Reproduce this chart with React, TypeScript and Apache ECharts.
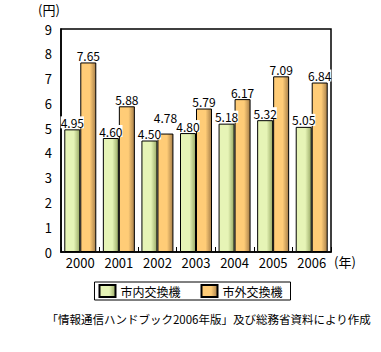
import React, { useEffect, useRef } from "react";
import * as echarts from "echarts";

const categories = ["2000", "2001", "2002", "2003", "2004", "2005", "2006"];
const localValues = [4.95, 4.6, 4.5, 4.8, 5.18, 5.32, 5.05];
const longValues = [7.65, 5.88, 4.78, 5.79, 6.17, 7.09, 6.84];
const seriesNames = ["市内交換機", "市外交換機"];
const sourceText = "「情報通信ハンドブック2006年版」及び総務省資料により作成";

const FONT = "'Noto Sans CJK JP', sans-serif";

function grad(base: string, dark: string) {
  return new echarts.graphic.LinearGradient(0, 0, 1, 0, [
    { offset: 0, color: base },
    { offset: 0.6, color: base },
    { offset: 1, color: dark },
  ]);
}

export default function App() {
  const ref = useRef<HTMLDivElement>(null);
  useEffect(() => {
    if (!ref.current) return;
    const chart = echarts.init(ref.current, null, { renderer: "svg" });
    const label = {
      show: true,
      position: "top" as const,
      distance: 1,
      color: "#000",
      fontFamily: FONT,
      fontSize: 12,
      backgroundColor: "#fff",
      padding: [0, 0, 0, 0],
      formatter: (p: any) => Number(p.value).toFixed(2),
    };
    chart.setOption({
      animation: false,
      grid: { left: 61, right: 50, top: 29, bottom: 100, containLabel: false },
      legend: {
        top: 282,
        left: "center",
        icon: "rect",
        itemWidth: 16,
        itemHeight: 12,
        itemGap: 20,
        borderColor: "#000",
        borderWidth: 1,
        padding: [2, 8, 2, 4],
        textStyle: { fontFamily: FONT, fontSize: 12, color: "#000" },
        data: seriesNames,
      },
      xAxis: {
        type: "category",
        data: categories,
        axisLine: { lineStyle: { color: "#000", width: 1.5 } },
        axisTick: { show: true, inside: true, length: 5, lineStyle: { color: "#000" } },
        axisLabel: { color: "#000", fontFamily: FONT, fontSize: 13, margin: 4 },
      },
      yAxis: {
        type: "value",
        min: 0,
        max: 9,
        interval: 1,
        axisLine: { show: true, lineStyle: { color: "#000", width: 1.5 } },
        axisTick: { show: false },
        splitLine: { show: false },
        axisLabel: { color: "#000", fontFamily: FONT, fontSize: 13, margin: 9 },
      },
      graphic: [
        {
          type: "rect",
          shape: { x: 61, y: 29, width: 270, height: 223 },
          style: { fill: "none", stroke: "#000", lineWidth: 1.5 },
          silent: true,
        },
        {
          type: "text",
          left: 38,
          top: 3,
          style: { text: "(円)", fontFamily: FONT, fontSize: 13, fill: "#000" },
        },
        {
          type: "text",
          left: 334,
          top: 255,
          style: { text: "(年)", fontFamily: FONT, fontSize: 13, fill: "#000" },
        },
        {
          type: "text",
          right: 10,
          top: 313,
          style: { text: sourceText, fontFamily: FONT, fontSize: 11.5, fill: "#000" },
        },
      ],
      series: [
        {
          name: seriesNames[0],
          type: "bar",
          data: localValues,
          barWidth: 16,
          barGap: "0%",
          itemStyle: { color: grad("#E6F4B6", "#9AAA66"), borderColor: "#000", borderWidth: 1 },
          label,
        },
        {
          name: seriesNames[1],
          type: "bar",
          data: longValues,
          barWidth: 16,
          itemStyle: { color: grad("#FFCC77", "#A8804A"), borderColor: "#000", borderWidth: 1 },
          label,
          labelLayout: (params: any) =>
            longValues[params.dataIndex] - localValues[params.dataIndex] < 0.5 ? { dy: -9 } : {},
        },
      ],
    });
    return () => chart.dispose();
  }, []);
  return <div ref={ref} style={{ width: 381, height: 352, position: "absolute", left: 0, top: 0 }} />;
}
